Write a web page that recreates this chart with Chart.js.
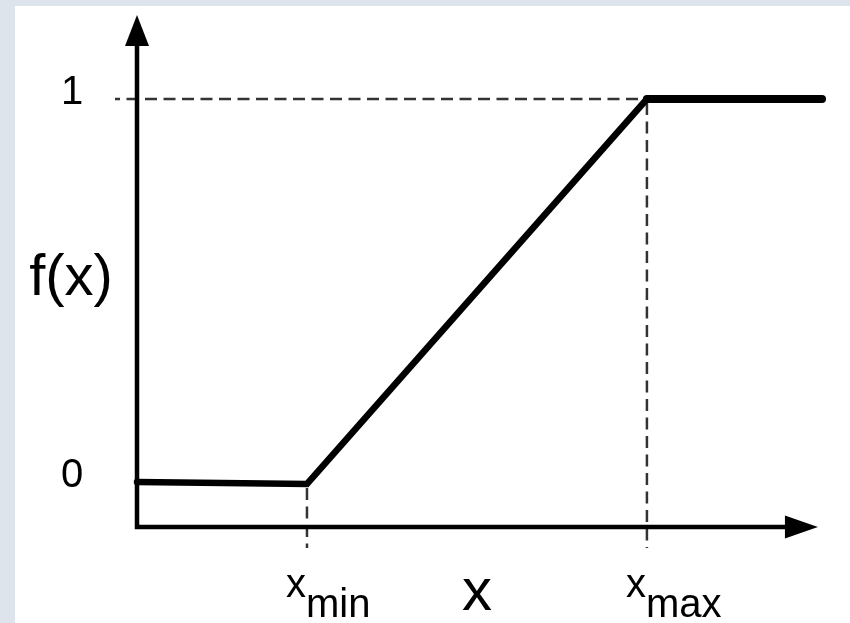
<!DOCTYPE html>
<html>
<head>
<meta charset="utf-8">
<script src="https://cdn.jsdelivr.net/npm/chart.js@4.4.1/dist/chart.umd.min.js"></script>
<style>
    html, body { margin: 0; padding: 0; }
    body { width: 850px; height: 623px; background: #dde4ec; position: relative; overflow: hidden; }
    .panel { position: absolute; left: 15px; top: 6px; width: 835px; height: 617px; background: #fff; }
    #rampChart { position: absolute; left: 0; top: 0; }
</style>
</head>
<body>
<div class="panel"></div>
<canvas id="rampChart" width="850" height="623"></canvas>
<script>
// Datos de la rampa f(x)
const xBreaks = [0, 5, 15, 20.15];
const fValues = [0, -0.005, 1, 1];
const yTickValues = [0, 1];
const yTickLabels = ['0', '1'];
const xMarkValues = [5, 15];
const xMarkSubs = ['min', 'max'];
const xRange = [0, 20.15];
const yRange = [-0.1175, 1.2193];
const xArrowTip = 20.03;
const yAxisTitle = 'f(x)';
const xAxisTitle = 'x';

(function() {
    'use strict';

    const FONT = '"Liberation Sans", Arial, Helvetica, sans-serif';

    // Ejes con flechas, lineas guia y textos
    const rampDecor = {
        id: 'rampDecor',
        beforeDatasetsDraw(chart) {
            const ctx = chart.ctx;
            const xs = chart.scales.x;
            const ys = chart.scales.y;
            const x0 = xs.getPixelForValue(0);
            const yBase = ys.getPixelForValue(yRange[0]);
            const yTop = ys.getPixelForValue(yRange[1]);
            const xTip = xs.getPixelForValue(xArrowTip);

            ctx.save();
            // lineas guia discontinuas
            ctx.strokeStyle = '#333';
            ctx.lineWidth = 2.5;
            ctx.setLineDash([12, 6.5]);
            const y1 = ys.getPixelForValue(1);
            ctx.lineDashOffset = 7;
            ctx.beginPath();
            ctx.moveTo(x0 - 22, y1);
            ctx.lineTo(xs.getPixelForValue(xMarkValues[1]), y1);
            ctx.stroke();

            ctx.lineDashOffset = 0;
            xMarkValues.forEach((v) => {
                const px = xs.getPixelForValue(v);
                const idx = xBreaks.indexOf(v);
                const py = ys.getPixelForValue(fValues[idx]);
                ctx.beginPath();
                ctx.moveTo(px, py + 4);
                ctx.lineTo(px, yBase + 21);
                ctx.stroke();
            });
            ctx.setLineDash([]);

            // ejes
            ctx.strokeStyle = '#000';
            ctx.fillStyle = '#000';
            ctx.lineWidth = 4.5;
            ctx.beginPath();
            ctx.moveTo(x0, yBase + 2.25);
            ctx.lineTo(x0, yTop + 20);
            ctx.moveTo(x0 - 2.25, yBase);
            ctx.lineTo(xTip - 20, yBase);
            ctx.stroke();

            ctx.beginPath();
            ctx.moveTo(x0, yTop);
            ctx.lineTo(x0 - 12, yTop + 31);
            ctx.lineTo(x0 + 12, yTop + 31);
            ctx.closePath();
            ctx.fill();

            ctx.beginPath();
            ctx.moveTo(xTip, yBase);
            ctx.lineTo(xTip - 33, yBase - 11.5);
            ctx.lineTo(xTip - 33, yBase + 11.5);
            ctx.closePath();
            ctx.fill();
            ctx.restore();
        },
        afterDraw(chart) {
            const ctx = chart.ctx;
            const xs = chart.scales.x;
            const ys = chart.scales.y;
            const x0 = xs.getPixelForValue(0);
            const yBase = ys.getPixelForValue(yRange[0]);

            ctx.save();
            ctx.fillStyle = '#000';
            ctx.textBaseline = 'alphabetic';

            // etiquetas del eje y
            ctx.font = '40px ' + FONT;
            ctx.textAlign = 'center';
            yTickValues.forEach((v, i) => {
                ctx.fillText(yTickLabels[i], x0 - 65, ys.getPixelForValue(v) + 5);
            });

            // titulo eje y
            ctx.font = '58px ' + FONT;
            ctx.fillText(yAxisTitle, x0 - 66, 295);

            // x_min / x_max
            xMarkValues.forEach((v, i) => {
                const px = xs.getPixelForValue(v);
                ctx.font = '40px ' + FONT;
                ctx.textAlign = 'right';
                ctx.fillText('x', px - 1, yBase + 70);
                ctx.textAlign = 'left';
                ctx.fillText(xMarkSubs[i], px - 1, yBase + 90);
            });

            // titulo eje x
            ctx.font = '60px ' + FONT;
            ctx.textAlign = 'center';
            ctx.fillText(xAxisTitle, 477, yBase + 83);
            ctx.restore();
        }
    };

    document.addEventListener('DOMContentLoaded', () => {
        const el = document.getElementById('rampChart');
        new Chart(el, {
            type: 'line',
            data: {
                datasets: [{
                    data: xBreaks.map((x, i) => ({ x: x, y: fValues[i] })),
                    borderColor: '#000',
                    borderWidth: 6.5,
                    borderCapStyle: 'round',
                    borderJoinStyle: 'miter',
                    pointRadius: 0,
                    tension: 0,
                    fill: false,
                    clip: false,
                    segment: {
                        // tramo superior algo mas grueso
                        borderWidth: (c) => (c.p0.parsed.y === 1 && c.p1.parsed.y === 1 ? 8 : 6.5)
                    }
                }]
            },
            options: {
                responsive: false,
                animation: false,
                devicePixelRatio: 1,
                layout: { padding: { left: 137, right: 28, top: 15, bottom: 96 } },
                plugins: { legend: { display: false }, tooltip: { enabled: false } },
                scales: {
                    x: { type: 'linear', display: false, min: xRange[0], max: xRange[1] },
                    y: { type: 'linear', display: false, min: yRange[0], max: yRange[1] }
                }
            },
            plugins: [rampDecor]
        });
    });
})();
</script>
</body>
</html>
